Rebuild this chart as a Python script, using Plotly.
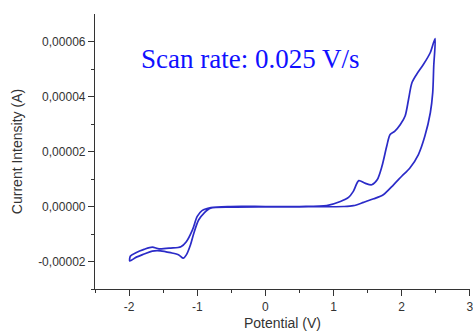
import plotly.graph_objects as go

# Potential (V) and current (A), traced around the loop
potential = [-1.99, -1.98, -1.90, -1.78, -1.66, -1.56, -1.39, -1.24, -1.16, -1.07, -1.00, -0.93, -0.80, -0.51,
             0.0, 0.5, 0.90, 1.10, 1.22, 1.29, 1.37, 1.46, 1.56, 1.64, 1.71, 1.78, 1.83, 1.90, 1.98,
             2.05, 2.10, 2.15, 2.22, 2.32, 2.42, 2.49,
             2.47, 2.455, 2.42, 2.34, 2.245, 2.12, 2.00, 1.88, 1.73, 1.59, 1.44, 1.29, 1.15,
             0.5, 0.0, -0.5, -0.805, -0.90, -0.98, -1.05, -1.10, -1.16, -1.205, -1.27, -1.39,
             -1.54, -1.66, -1.78, -1.90, -1.99]
current_e5 = [-1.98, -1.80, -1.68, -1.56, -1.48, -1.54, -1.51, -1.46, -1.28, -0.85, -0.36, -0.15, -0.04, 0.0,
              0.0, 0.0, 0.03, 0.18, 0.33, 0.55, 0.94, 0.85, 0.79, 0.97, 1.46, 2.19, 2.62, 2.74, 2.98,
              3.29, 3.89, 4.50, 4.81, 5.17, 5.60, 6.11,
              5.11, 4.14, 3.41, 2.56, 1.89, 1.40, 1.10, 0.79, 0.43, 0.28, 0.15, 0.03, 0.0,
              -0.01, -0.01, -0.02, -0.06, -0.24, -0.49, -0.97, -1.40, -1.76, -1.88, -1.76, -1.68,
              -1.61, -1.62, -1.73, -1.85, -1.98]
current = [v * 1e-5 for v in current_e5]

x_tickvals = [-2, -1, 0, 1, 2, 3]
x_ticktext = ["-2", "-1", "0", "1", "2", "3"]
y_tickvals = [-2e-5, 0, 2e-5, 4e-5, 6e-5]
y_ticktext = ["-0,00002", "0,00000", "0,00002", "0,00004", "0,00006"]

annotation_text = "Scan rate: 0.025 V/s"
x_title = "Potential (V)"
y_title = "Current Intensity (A)"

fig = go.Figure()
fig.add_trace(go.Scatter(
    x=potential, y=current, mode="lines",
    line=dict(color="#2b2bc8", width=1.7, shape="spline", smoothing=0.8),
    showlegend=False,
))

label_font = dict(family="Arial, Liberation Sans, sans-serif", size=14, color="#333333")
axis_common = dict(
    showline=True, linecolor="#333333", linewidth=1.2, mirror=False,
    ticks="outside", ticklen=6, tickwidth=1, tickcolor="#333333",
    showgrid=False, zeroline=False, automargin=False, ticklabeloverflow="allow",
    tickfont=dict(family="Arial, Liberation Sans, sans-serif", size=12, color="#333333"),
)

fig.update_xaxes(
    range=[-2.5, 3.002], tickvals=x_tickvals, ticktext=x_ticktext,
    minor=dict(ticks="outside", ticklen=3, tickvals=[-2.5, -1.5, -0.5, 0.5, 1.5, 2.5], tickcolor="#333333"),
    title=dict(text=x_title, font=label_font, standoff=5),
    **axis_common,
)
fig.update_yaxes(
    range=[-3e-5, 7e-5], tickvals=y_tickvals, ticktext=y_ticktext,
    minor=dict(ticks="outside", ticklen=3, tickvals=[-3e-5, -1e-5, 1e-5, 3e-5, 5e-5], tickcolor="#333333"),
    title=dict(text=y_title, font=label_font, standoff=12),
    **axis_common,
)

fig.add_annotation(
    x=-1.85, y=5.38e-5, xref="x", yref="y", text=annotation_text, showarrow=False,
    xanchor="left", yanchor="middle",
    font=dict(family="Liberation Serif, Times New Roman, serif", size=27, color="#1010ff"),
)

fig.update_layout(
    width=473, height=333,
    margin=dict(l=95, r=3, t=14, b=44),
    plot_bgcolor="white", paper_bgcolor="white",
)

# remove the default page margin so the figure fills the 473x333 window exactly
fig.write_html(
    "out.html",
    config={"displayModeBar": False},
    post_script="document.body.style.margin='0';document.body.style.overflow='hidden';",
)
